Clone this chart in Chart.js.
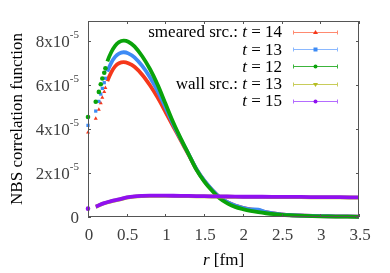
<!DOCTYPE html>
<html>
<head>
<meta charset="utf-8">
<script src="https://cdn.jsdelivr.net/npm/chart.js@4.4.1/dist/chart.umd.min.js"></script>
<style>
  html, body { margin: 0; padding: 0; background: #fff; }
  #nbs { display: block; }
</style>
</head>
<body>
<canvas id="nbs" width="390" height="273"></canvas>
<script>
// r en fm, valores en unidades de 1e-5
const rSmeared = [0, 0.1, 0.14, 0.165, 0.185, 0.21, 0.225, 0.25, 0.3, 0.35, 0.4, 0.46, 0.52, 0.6, 0.7, 0.8, 0.9, 1.0, 1.1, 1.2, 1.3, 1.4, 1.5, 1.6, 1.7, 1.8, 1.9, 2.0, 2.1, 2.2, 2.3, 2.4, 2.5, 2.6, 2.8, 3.0, 3.2, 3.5];
const smearedT14 = [3.84, 4.47, 4.88, 5.17, 5.42, 5.68, 5.87, 6.17, 6.57, 6.84, 6.98, 7.03, 6.98, 6.82, 6.46, 5.98, 5.42, 4.78, 4.12, 3.47, 2.82, 2.17, 1.65, 1.24, 0.9, 0.67, 0.52, 0.42, 0.35, 0.3, 0.22, 0.16, 0.12, 0.09, 0.06, 0.04, 0.03, 0.02];
const smearedT13 = [4.16, 4.81, 5.25, 5.58, 5.84, 6.1, 6.3, 6.6, 7.0, 7.27, 7.42, 7.48, 7.43, 7.25, 6.86, 6.35, 5.72, 4.98, 4.22, 3.52, 2.85, 2.18, 1.66, 1.25, 0.9, 0.67, 0.52, 0.42, 0.35, 0.33, 0.22, 0.16, 0.12, 0.09, 0.06, 0.04, 0.03, 0.02];
const smearedT12 = [4.54, 5.23, 5.68, 6.03, 6.29, 6.55, 6.75, 7.07, 7.48, 7.77, 7.94, 8.01, 7.96, 7.75, 7.3, 6.72, 6.0, 5.15, 4.3, 3.55, 2.85, 2.15, 1.62, 1.2, 0.85, 0.62, 0.46, 0.36, 0.28, 0.22, 0.17, 0.13, 0.1, 0.08, 0.05, 0.03, 0.02, 0.01];

const rWall = [0, 0.1, 0.15, 0.2, 0.3, 0.4, 0.5, 0.6, 0.7, 0.8, 0.9, 1.0, 1.2, 1.4, 1.6, 1.8, 2.0, 2.25, 2.5, 2.75, 3.0, 3.25, 3.5];
const wallT13 = [0.37, 0.46, 0.54, 0.61, 0.71, 0.79, 0.88, 0.93, 0.95, 0.96, 0.96, 0.96, 0.95, 0.94, 0.93, 0.92, 0.91, 0.91, 0.9, 0.9, 0.89, 0.89, 0.88];
const wallT15 = [0.38, 0.47, 0.55, 0.62, 0.72, 0.8, 0.89, 0.94, 0.96, 0.97, 0.97, 0.97, 0.96, 0.95, 0.94, 0.93, 0.92, 0.92, 0.91, 0.91, 0.9, 0.9, 0.89];

// Ejes
const xTicks = [0, 0.5, 1, 1.5, 2, 2.5, 3, 3.5];
const xTickLabels = ['0', '0.5', '1', '1.5', '2', '2.5', '3', '3.5'];
const yTicks = [0, 2, 4, 6, 8];
const yTickLabels = ['0', '2x10', '4x10', '6x10', '8x10'];
const yTickExp = '-5';

// Leyenda
const legendPrefix = ['smeared src.: ', '', '', 'wall src.: ', ''];
const legendT = ['14', '13', '12', '13', '15'];

const SERIF = '"Liberation Serif", "DejaVu Serif", serif';

function toPoints(rs, vs) {
    return rs.map((r, i) => ({ x: r, y: vs[i] }));
}

// Estilos de cada serie (color, marcador, color claro de la leyenda)
const seriesStyle = [
    { color: '#f5371b', light: '#ff8a70', style: 'triangle', rot: 0, cut: 0.24 },
    { color: '#3d8bf5', light: '#8ab8ff', style: 'rect', rot: 0, cut: 0.24 },
    { color: '#0aa30a', light: '#3cb43c', style: 'circle', rot: 0, cut: 0.24 },
    { color: '#b5bd22', light: '#c8cc5a', style: 'triangle', rot: 180, cut: 0.05 },
    { color: '#9010f0', light: '#b46cff', style: 'circle', rot: 0, cut: 0.05 },
];

const seriesData = [
    toPoints(rSmeared, smearedT14),
    toPoints(rSmeared, smearedT13),
    toPoints(rSmeared, smearedT12),
    toPoints(rWall, wallT13),
    toPoints(rWall, wallT15),
];

const datasets = seriesData.map((pts, i) => {
    const s = seriesStyle[i];
    return {
        label: legendPrefix[i] + 't = ' + legendT[i],
        data: pts,
        showLine: true,
        tension: 0.3,
        borderWidth: 3.8,
        borderColor: s.color,
        backgroundColor: s.color,
        pointStyle: s.style,
        rotation: s.rot,
        pointBorderWidth: 0,
        pointRadius: ctx => (ctx.raw && ctx.raw.x < s.cut) ? 2.3 : 0,
        segment: {
            borderColor: ctx => ctx.p0.parsed.x < s.cut ? 'rgba(0,0,0,0)' : undefined,
        },
        clip: 4,
        order: 5 - i, // la última serie queda encima
    };
});

// Marco, ticks hacia dentro, etiquetas con superíndice y leyenda
const decorPlugin = {
    id: 'decor',
    afterDatasetsDraw(chart) {
        const { ctx, chartArea: a, scales } = chart;
        const xs = scales.x, ys = scales.y;
        ctx.save();

        // marco
        ctx.strokeStyle = '#555';
        ctx.lineWidth = 1;
        ctx.strokeRect(a.left + 0.5, a.top + 0.5, a.right - a.left - 1, a.bottom - a.top - 1);

        // ticks
        ctx.beginPath();
        xTicks.forEach(v => {
            const px = Math.round(xs.getPixelForValue(v)) + 0.5;
            ctx.moveTo(px, a.bottom); ctx.lineTo(px, a.bottom - 3);
            ctx.moveTo(px, a.top); ctx.lineTo(px, a.top + 3);
        });
        yTicks.forEach(v => {
            const py = Math.round(ys.getPixelForValue(v)) + 0.5;
            ctx.moveTo(a.left, py); ctx.lineTo(a.left + 3, py);
            ctx.moveTo(a.right, py); ctx.lineTo(a.right - 3, py);
        });
        ctx.stroke();

        // etiquetas eje x
        ctx.fillStyle = '#404040';
        ctx.font = '17px ' + SERIF;
        ctx.textAlign = 'center';
        ctx.textBaseline = 'middle';
        xTicks.forEach((v, i) => {
            ctx.fillText(xTickLabels[i], xs.getPixelForValue(v) + 1, 236);
        });

        // etiquetas eje y
        const rightX = 79;
        yTicks.forEach((v, i) => {
            const py = ys.getPixelForValue(v);
            let baseRight = rightX;
            if (v !== 0) {
                ctx.font = '11px ' + SERIF;
                ctx.textAlign = 'right';
                ctx.fillText(yTickExp, rightX, py - 6);
                baseRight = rightX - ctx.measureText(yTickExp).width;
            }
            ctx.font = '17px ' + SERIF;
            ctx.textAlign = 'right';
            ctx.fillText(yTickLabels[i], baseRight, py + 1.5);
        });

        // títulos
        ctx.fillStyle = '#000';
        ctx.font = '17px ' + SERIF;
        ctx.save();
        ctx.translate(18, (a.top + a.bottom) / 2);
        ctx.rotate(-Math.PI / 2);
        ctx.textAlign = 'center';
        ctx.fillText('NBS correlation function', 0, 0);
        ctx.restore();

        const xMid = (a.left + a.right) / 2;
        ctx.font = 'italic 17px ' + SERIF;
        const wr = ctx.measureText('r').width;
        ctx.font = '17px ' + SERIF;
        const wrest = ctx.measureText(' [fm]').width;
        const x0 = xMid - (wr + wrest) / 2;
        ctx.textAlign = 'left';
        ctx.font = 'italic 17px ' + SERIF;
        ctx.fillText('r', x0, 261);
        ctx.font = '17px ' + SERIF;
        ctx.fillText(' [fm]', x0 + wr, 261);

        // leyenda
        const textRight = 282;
        legendT.forEach((t, i) => {
            const y = 33 + i * 17.2;
            const s = seriesStyle[i];
            ctx.fillStyle = '#000';
            ctx.textAlign = 'right';
            ctx.font = '17px ' + SERIF;
            const tail = ' = ' + t;
            ctx.fillText(tail, textRight, y);
            let x = textRight - ctx.measureText(tail).width;
            ctx.font = 'italic 17px ' + SERIF;
            ctx.fillText('t', x, y);
            x -= ctx.measureText('t').width;
            if (legendPrefix[i]) {
                ctx.font = '17px ' + SERIF;
                ctx.fillText(legendPrefix[i], x, y);
            }

            // muestra con barras de error
            const y0 = Math.round(y - 1) + 0.5;
            ctx.strokeStyle = s.light;
            ctx.lineWidth = 1;
            ctx.beginPath();
            ctx.moveTo(293, y0); ctx.lineTo(338, y0);
            ctx.moveTo(293.5, y0 - 2); ctx.lineTo(293.5, y0 + 2);
            ctx.moveTo(337.5, y0 - 2); ctx.lineTo(337.5, y0 + 2);
            ctx.stroke();
            ctx.fillStyle = s.color;
            ctx.beginPath();
            if (s.style === 'rect') {
                ctx.fillRect(313.5, y0 - 2, 4, 4);
            } else if (s.style === 'triangle') {
                const d = s.rot ? -1 : 1;
                ctx.moveTo(315.5, y0 - 2.5 * d);
                ctx.lineTo(313, y0 + 1.5 * d);
                ctx.lineTo(318, y0 + 1.5 * d);
                ctx.closePath();
                ctx.fill();
            } else {
                ctx.arc(315.5, y0, 2, 0, Math.PI * 2);
                ctx.fill();
            }
        });

        ctx.restore();
    }
};

new Chart(document.getElementById('nbs').getContext('2d'), {
    type: 'scatter',
    data: { datasets },
    options: {
        responsive: false,
        animation: false,
        devicePixelRatio: 1,
        layout: { padding: { left: 0, top: 21, right: 31, bottom: 0 } },
        plugins: {
            legend: { display: false },
            tooltip: { enabled: false },
        },
        scales: {
            x: {
                type: 'linear',
                min: 0,
                max: 3.5,
                ticks: { display: false },
                grid: { display: false },
                border: { display: false },
                afterFit: scale => { scale.height = 56; },
            },
            y: {
                type: 'linear',
                min: 0,
                max: 8.9,
                ticks: { display: false },
                grid: { display: false },
                border: { display: false },
                afterFit: scale => { scale.width = 88; },
            },
        },
    },
    plugins: [decorPlugin],
});
</script>
</body>
</html>
